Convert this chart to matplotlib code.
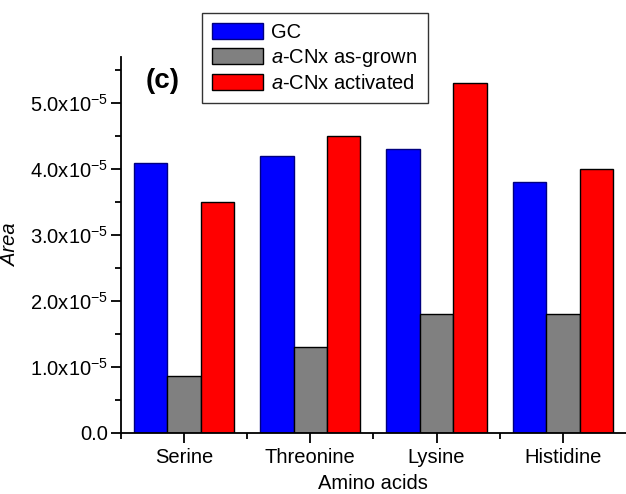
import matplotlib
matplotlib.use("Agg")
import matplotlib.pyplot as plt
import numpy as np
from matplotlib.ticker import FixedLocator, MultipleLocator, FuncFormatter

plt.rcParams['font.family'] = 'Liberation Sans'
plt.rcParams['mathtext.fontset'] = 'custom'
plt.rcParams['mathtext.rm'] = 'Liberation Sans'
plt.rcParams['mathtext.it'] = 'Liberation Sans:italic'
plt.rcParams['mathtext.bf'] = 'Liberation Sans:bold'

# data
amino_acids = ['Serine', 'Threonine', 'Lysine', 'Histidine']
gc = [4.1e-5, 4.2e-5, 4.3e-5, 3.8e-5]
cnx_grown = [0.87e-5, 1.3e-5, 1.8e-5, 1.8e-5]
cnx_activated = [3.5e-5, 4.5e-5, 5.3e-5, 4.0e-5]

series = [('GC', gc, '#0000ff', '#000080'),
          (r'$\mathit{a}$-CNx as-grown', cnx_grown, '#808080', '#000000'),
          (r'$\mathit{a}$-CNx activated', cnx_activated, '#ff0000', '#000000')]

FS = 14.5

fig = plt.figure(figsize=(6.26, 4.94), dpi=100)
ax = fig.add_axes([0.193, 0.1235, 0.807, 0.761])

x = np.arange(len(amino_acids))
w = 0.265
for i, (lab, vals, col, ec) in enumerate(series):
    ax.bar(x + (i - 1) * w, vals, width=w, color=col, edgecolor=ec,
           linewidth=1.0, label=lab)

ax.set_xlim(-0.5, 3.5)
ax.set_ylim(0, 5.7e-5)

ax.spines['top'].set_visible(False)
ax.spines['right'].set_visible(False)
ax.spines['left'].set_linewidth(1.3)
ax.spines['bottom'].set_linewidth(1.3)

ax.set_xticks(x)
ax.set_xticklabels(amino_acids)
ax.xaxis.set_minor_locator(FixedLocator([-0.5, 0.5, 1.5, 2.5]))
ax.yaxis.set_major_locator(MultipleLocator(1e-5))
ax.yaxis.set_minor_locator(MultipleLocator(0.5e-5))


def fmt(v, pos):
    if abs(v) < 1e-12:
        return '0.0'
    return '%.1fx10$^{\\mathregular{-5}}$' % (v * 1e5)


ax.yaxis.set_major_formatter(FuncFormatter(fmt))
ax.tick_params(axis='both', which='major', direction='out', length=7,
               width=1.3, labelsize=FS, colors='black')
ax.tick_params(axis='y', which='major', pad=2)
ax.tick_params(axis='both', which='minor', direction='out', length=4, width=1.3)
ax.tick_params(axis='x', which='major', pad=4)

ax.set_xlabel('Amino acids', fontsize=FS, labelpad=5)
ax.set_ylabel('Area', fontsize=FS, style='italic')
ax.yaxis.set_label_coords(-0.2, 0.5)

ax.text(0.05, 0.935, '(c)', transform=ax.transAxes, fontsize=20,
        fontweight='bold', ha='left', va='center')

leg = ax.legend(loc='upper left', bbox_to_anchor=(202 / 626, 1 - 13 / 494),
                bbox_transform=fig.transFigure, fontsize=FS, frameon=True,
                fancybox=False, borderaxespad=0, borderpad=0.5,
                handlelength=2.55, handleheight=0.85, handletextpad=0.4,
                labelspacing=0.25)
leg.get_frame().set_edgecolor('black')
leg.get_frame().set_linewidth(1.0)

fig.savefig('out.png', dpi=100)
